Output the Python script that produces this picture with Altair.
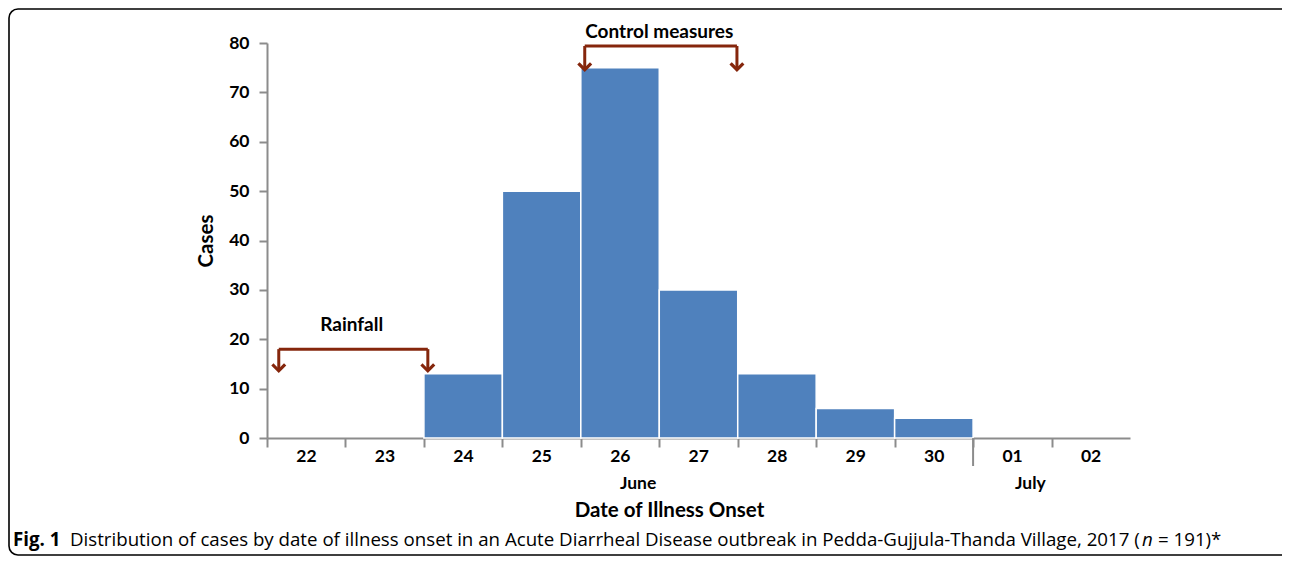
import altair as alt
import pandas as pd

# ---- data ----
days = ["22", "23", "24", "25", "26", "27", "28", "29", "30", "01", "02"]
cases = [0, 0, 13, 50, 75, 30, 13, 6, 4, 0, 0]
months = ["June", "July"]
month_pos = [4.73, 9.73]          # position along day axis (day index units)
bracket_names = ["Rainfall", "Control measures"]
bracket_x1 = [0.15, 4.05]
bracket_x2 = [2.05, 5.99]
bracket_top = [18.0, 79.4]
bracket_tip = [13.6, 74.6]
bracket_label_x = [1.08, 5.0]
bracket_label_y = [22.9, 82.3]

W, H = 863, 395
FONT = "Lato"
AXIS_COLOR = "#8c8c8c"
BAR_COLOR = "#4f81bd"
ARROW_COLOR = "#85260c"

bars = pd.DataFrame({
    "day": days,
    "start": list(range(len(days))),
    "end": [i + 1 for i in range(len(days))],
    "cases": cases,
})
bars = bars[bars["cases"] > 0]

label_expr = "[" + ",".join(f"'{d}'" for d in days) + "][datum.value]"

xscale = alt.Scale(domain=[0, 11], nice=False, zero=False)
yscale = alt.Scale(domain=[0, 80], nice=False)

base_bars = alt.Chart(bars).mark_rect(
    color=BAR_COLOR, stroke="white", strokeWidth=1.5
).encode(
    x=alt.X("start:Q", scale=xscale,
            axis=alt.Axis(values=list(range(11)), labelExpr=label_expr,
                          labelOffset=39, title="Date of Illness Onset",
                          titlePadding=36, titleFontSize=20.5, titleFont=FONT,
                          titleFontWeight="bold", titleColor="black",
                          titleX=402, titleAlign="center", titleAnchor="start",
                          labelFont=FONT, labelFontWeight="bold", labelFontSize=17.5,
                          labelColor="black", labelPadding=0,
                          domainColor=AXIS_COLOR, domainWidth=2,
                          tickColor=AXIS_COLOR, tickWidth=2, tickSize=9,
                          grid=False, labelFlush=False)),
    x2="end:Q",
    y=alt.Y("cases:Q", scale=yscale,
            axis=alt.Axis(values=list(range(0, 81, 10)), title="Cases",
                          titleFontSize=20.5, titleFont=FONT, titleFontWeight="bold",
                          titleColor="black", titlePadding=12,
                          labelFont=FONT, labelFontWeight="bold", labelFontSize=17.5,
                          labelColor="black", labelPadding=10,
                          domainColor=AXIS_COLOR, domainWidth=2,
                          tickColor=AXIS_COLOR, tickWidth=2, tickSize=8,
                          grid=False)),
    y2=alt.datum(0),
)

# June / July separator tick
sep = alt.Chart(pd.DataFrame({"x": [9]})).mark_rule(
    color=AXIS_COLOR, strokeWidth=2
).encode(x=alt.X("x:Q", scale=xscale), y=alt.value(H), y2=alt.value(H + 28))

month_df = pd.DataFrame({"m": months, "x": month_pos})
month_text = alt.Chart(month_df).mark_text(
    font=FONT, fontWeight="bold", fontSize=17.5, color="black", baseline="middle"
).encode(x=alt.X("x:Q", scale=xscale), y=alt.value(H + 46), text="m:N")

br = pd.DataFrame({
    "name": bracket_names, "x1": bracket_x1, "x2": bracket_x2,
    "top": bracket_top, "tip": bracket_tip,
    "lx": bracket_label_x, "ly": bracket_label_y,
})
hline = alt.Chart(br).mark_rule(color=ARROW_COLOR, strokeWidth=3).encode(
    x=alt.X("x1:Q", scale=xscale), x2="x2:Q", y=alt.Y("top:Q", scale=yscale))
vl1 = alt.Chart(br).mark_rule(color=ARROW_COLOR, strokeWidth=3).encode(
    x=alt.X("x1:Q", scale=xscale), y=alt.Y("top:Q", scale=yscale), y2="tip:Q")
vl2 = alt.Chart(br).mark_rule(color=ARROW_COLOR, strokeWidth=3).encode(
    x=alt.X("x2:Q", scale=xscale), y=alt.Y("top:Q", scale=yscale), y2="tip:Q")
chevron = "M -1 -1 L 0 0 L 1 -1"
head1 = alt.Chart(br).mark_point(shape=chevron, filled=False, color=ARROW_COLOR,
                                 strokeWidth=3.2, size=110, opacity=1,
                                 strokeCap="square").encode(
    x=alt.X("x1:Q", scale=xscale), y=alt.Y("tip:Q", scale=yscale))
head2 = alt.Chart(br).mark_point(shape=chevron, filled=False, color=ARROW_COLOR,
                                 strokeWidth=3.2, size=110, opacity=1,
                                 strokeCap="square").encode(
    x=alt.X("x2:Q", scale=xscale), y=alt.Y("tip:Q", scale=yscale))
blabel = alt.Chart(br).mark_text(font=FONT, fontWeight="bold", fontSize=19,
                                 color="black", baseline="middle").encode(
    x=alt.X("lx:Q", scale=xscale), y=alt.Y("ly:Q", scale=yscale), text="name:N")

# figure frame and caption
frame = alt.Chart(pd.DataFrame({"a": [0]})).mark_rect(
    fill=None, stroke="black", strokeWidth=1.6, cornerRadius=9
).encode(x=alt.value(-258), x2=alt.value(1030), y=alt.value(-34), y2=alt.value(512))

cap_parts = ["Fig. 1",
             "Distribution of cases by date of illness onset in an Acute Diarrheal Disease outbreak in Pedda-Gujjula-Thanda Village, 2017 (",
             "n",
             "= 191)*"]
cap_x = [-254, -197, 875, 891]
cap_w = ["bold", "normal", "normal", "normal"]
cap_s = ["normal", "normal", "italic", "normal"]
cap = pd.DataFrame({"t": cap_parts, "x": cap_x, "w": cap_w, "s": cap_s})
cap_layers = []
for i in range(len(cap_parts)):
    cap_layers.append(
        alt.Chart(cap.iloc[[i]]).mark_text(
            font="Open Sans", fontSize=18.7, color="black", align="left",
            baseline="middle", fontWeight=cap_w[i], fontStyle=cap_s[i]
        ).encode(x=alt.value(cap_x[i]), y=alt.value(497), text="t:N")
    )

chart = alt.layer(
    frame, base_bars, sep, month_text, hline, vl1, vl2, head1, head2, blabel,
    *cap_layers
).properties(
    width=W, height=H,
    autosize=alt.AutoSizeParams(type="none"),
    padding={"left": 259, "top": 35, "right": 152, "bottom": 119},
).configure_view(stroke=None)

chart.save("out.html", embed_options={"renderer": "svg", "actions": False})
